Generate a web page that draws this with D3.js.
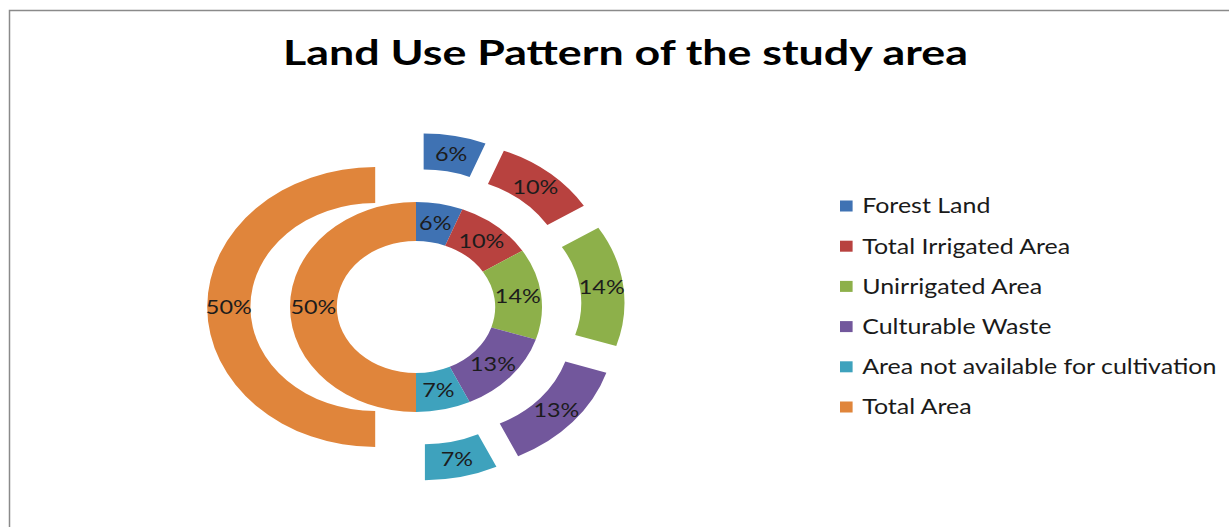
<!DOCTYPE html>
<html>
<head>
<meta charset="utf-8">
<script src="https://cdn.jsdelivr.net/npm/d3@7"></script>
<style>
  html, body { margin: 0; padding: 0; background: #fff; }
  svg { display: block; }
</style>
</head>
<body>
<div id="chart"></div>
<script>
// Land use pattern — two-ring doughnut, outer ring exploded

const categories = ['Forest Land', 'Total Irrigated Area', 'Unirrigated Area',
  'Culturable Waste', 'Area not available for cultivation', 'Total Area'];
const innerValues = [6, 10, 14, 13, 7, 50];
const outerValues = [6, 10, 14, 13, 7, 50];
const colors = ['#3f72b3', '#b8423f', '#8db04a', '#72579c', '#3ea2bd', '#e0853b'];

(function() {
  'use strict';

  const width = 1229, height = 527;
  const cx = 416, cy = 307;
  const stretch = 1.2; // the original picture is widened horizontally
  const font = 'Lato, "Open Sans", sans-serif';

  const svg = d3.select('#chart').append('svg')
    .attr('width', width)
    .attr('height', height);

  // frame
  svg.append('rect')
    .attr('x', 9.5).attr('y', 10.5)
    .attr('width', 1300).attr('height', 600)
    .attr('fill', '#fff')
    .attr('stroke', '#8a8a8a')
    .attr('stroke-width', 1.5);

  // title, widened to the span it has in the original
  const title = svg.append('text')
    .attr('text-anchor', 'middle')
    .attr('font-family', font)
    .attr('font-weight', 'bold')
    .attr('font-size', 35)
    .attr('fill', '#000')
    .text('Land Use Pattern of the study area');
  const tw = title.node().getComputedTextLength();
  title.attr('transform', `translate(625.5,65) scale(${685 / tw},1)`);

  const pie = d3.pie().sort(null).value(d => d);

  const g = svg.append('g')
    .attr('transform', `translate(${cx},${cy}) scale(${stretch},1)`);

  function ring(values, r0, r1, explode) {
    const arc = d3.arc().innerRadius(r0).outerRadius(r1);
    const seg = g.append('g').selectAll('g')
      .data(pie(values))
      .join('g')
      .attr('transform', d => {
        const a = (d.startAngle + d.endAngle) / 2;
        return `translate(${explode * Math.sin(a)},${-explode * Math.cos(a)})`;
      });
    seg.append('path')
      .attr('d', arc)
      .attr('fill', (d, i) => colors[i]);
    seg.append('text')
      .attr('transform', d => `translate(${arc.centroid(d)})`)
      .attr('text-anchor', 'middle')
      .attr('dy', '0.36em')
      .attr('font-family', font)
      .attr('font-size', 19.5)
      .attr('fill', '#1c1c1c')
      .text(d => d.data + '%');
  }

  ring(innerValues, 66, 105, 0);
  ring(outerValues, 104, 140, 34);

  // legend
  const legend = svg.append('g')
    .attr('transform', 'translate(840,206) scale(1.2,1)');
  const item = legend.selectAll('g')
    .data(categories)
    .join('g')
    .attr('transform', (d, i) => `translate(0,${i * 40.2})`);
  item.append('rect')
    .attr('x', 0).attr('y', -5.5)
    .attr('width', 10.5).attr('height', 11)
    .attr('fill', (d, i) => colors[i]);
  item.append('text')
    .attr('x', 18.5).attr('dy', '0.36em')
    .attr('font-family', font)
    .attr('font-size', 20.8)
    .attr('fill', '#1a1a1a')
    .text(d => d);
})();
</script>
</body>
</html>
